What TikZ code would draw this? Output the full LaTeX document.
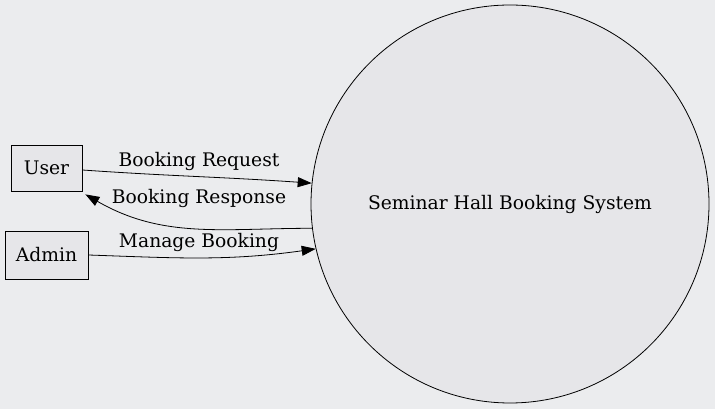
\documentclass[tikz,border=0pt]{standalone}
\usepackage{fontspec}
\setmainfont{DejaVu Serif}
\usetikzlibrary{arrows.meta}
\definecolor{bgcol}{HTML}{EBECEE}
\definecolor{fillcol}{HTML}{E6E6E9}
\tikzset{
  entity/.style={draw=black, fill=fillcol, line width=0.8pt, font=\fontsize{18.7}{22}\selectfont},
  process/.style={circle, draw=black, fill=fillcol, line width=0.8pt, minimum size=398pt, inner sep=0pt, font=\fontsize{18.7}{22}\selectfont},
  flow/.style={line width=0.8pt, -{Triangle[length=14pt,width=10pt]}},
  lbl/.style={font=\fontsize{18.7}{22}\selectfont, inner sep=1pt}
}
\begin{document}
\begin{tikzpicture}[x=1pt,y=1pt]
  \fill[bgcol] (0,0) rectangle (715,409);
  \useasboundingbox (0,0) rectangle (715,409);

  \node[process] (sys) at (510,205) {Seminar Hall Booking System}; % the system
  \node[entity, minimum width=71pt, minimum height=46pt] (user) at (46.5,241) {User};
  \node[entity, minimum width=83pt, minimum height=48pt] (admin) at (46.5,154) {Admin};

  \draw[flow] ([yshift=-2pt]user.east) to[out=-4, in=176] (sys.174.8);
  \draw[flow] (sys.187.2) to[out=180, in=-30] ([xshift=3pt,yshift=-3pt]user.south east);
  \draw[flow] (admin.east) to[out=-2, in=188] (sys.193.6);

  \node[lbl] (req) at (199,248) {Booking Request};
  \node[lbl] (resp) at (199,211) {Booking Response};
  \node[lbl] (mng) at (199,167) {Manage Booking};
\end{tikzpicture}
\end{document}
